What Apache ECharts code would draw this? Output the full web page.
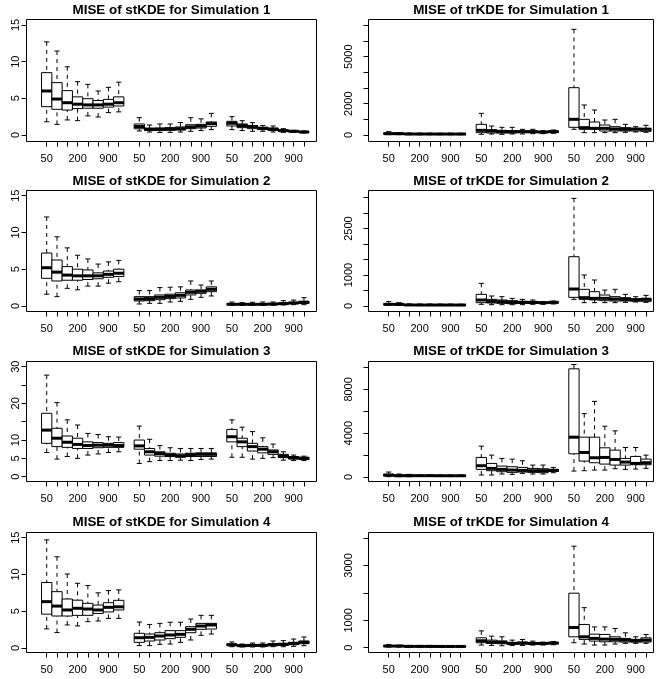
<!DOCTYPE html>
<html><head><meta charset="utf-8">
<script src="https://cdn.jsdelivr.net/npm/echarts@6/dist/echarts.min.js"></script>
<style>html,body{margin:0;padding:0;background:#fff}#c{width:662px;height:679px}</style>
</head><body><div id="c"></div>
<script>
// ---------- data ----------
const groupTickLabels = ['50', '', '', '200', '', '', '900', ''];
const nGroups = 3;

const titles = [
  'MISE of stKDE for Simulation 1', 'MISE of trKDE for Simulation 1',
  'MISE of stKDE for Simulation 2', 'MISE of trKDE for Simulation 2',
  'MISE of stKDE for Simulation 3', 'MISE of trKDE for Simulation 3',
  'MISE of stKDE for Simulation 4', 'MISE of trKDE for Simulation 4'
];

// each box: [lower whisker, Q1, median, Q3, upper whisker]
const stKDE_sim1 = [
  [1.8,3.86,6.0,8.5,12.7],[1.45,3.5,4.9,7.14,11.45],[2.05,3.4,4.4,6.05,9.3],[1.95,3.6,4.2,5.2,7.27],
  [2.6,3.65,4.1,4.95,6.9],[2.45,3.65,4.1,4.7,6.0],[3.05,3.8,4.2,4.85,6.5],[3.15,3.95,4.4,5.2,7.2],
  [0.55,0.85,1.15,1.5,2.36],[0.4,0.6,0.8,0.9,1.36],[0.35,0.6,0.78,0.95,1.5],[0.36,0.64,0.82,1.0,1.5],
  [0.4,0.68,0.86,1.1,1.7],[0.5,0.86,1.1,1.4,2.36],[0.6,0.95,1.22,1.45,2.2],[0.73,1.18,1.55,1.77,2.95],
  [0.73,1.23,1.6,1.86,2.5],[0.6,1.0,1.27,1.5,1.95],[0.5,0.86,1.14,1.3,1.68],[0.5,0.73,0.9,1.05,1.3],
  [0.41,0.64,0.77,0.95,1.23],[0.36,0.5,0.59,0.68,0.86],[0.36,0.45,0.5,0.55,0.64],[0.27,0.36,0.41,0.45,0.55]
];
const trKDE_sim1 = [
  [21,64,85,128,213],[21,43,85,106,150],[20,45,64,85,128],[20,44,62,82,120],
  [20,44,62,82,118],[20,43,60,80,115],[20,43,60,80,115],[20,43,60,80,112],
  [43,149,298,681,1383],[64,128,255,340,574],[43,128,213,298,489],[64,128,213,277,489],
  [64,149,213,255,362],[85,149,213,255,362],[85,149,191,213,277],[106,170,213,255,319],
  [364,490,1000,3020,6745],[149,364,468,1000,1915],[149,383,425,830,1596],[149,255,425,638,957],
  [149,255,383,532,1000],[170,255,364,468,681],[192,255,380,404,532],[170,234,364,425,617]
];
const stKDE_sim2 = [
  [1.6,3.76,5.2,7.2,12.1],[1.27,3.4,4.6,6.25,9.4],[2.4,3.5,4.2,5.35,7.9],[2.2,3.5,4.1,5.0,6.9],
  [2.7,3.6,4.1,4.9,6.4],[2.7,3.7,4.1,4.5,5.7],[3.1,3.9,4.3,4.75,6.0],[3.3,4.0,4.45,5.0,6.2],
  [0.27,0.68,0.95,1.27,2.1],[0.36,0.72,1.0,1.27,2.1],[0.36,0.86,1.18,1.5,2.5],[0.54,1.0,1.3,1.6,2.55],
  [0.63,1.09,1.45,1.8,2.6],[0.9,1.5,1.86,2.17,3.4],[1.18,1.72,2.0,2.17,2.85],[1.36,1.95,2.27,2.6,3.4],
  [0.09,0.18,0.23,0.32,0.54],[0.09,0.18,0.23,0.27,0.45],[0.09,0.18,0.23,0.32,0.5],[0.09,0.18,0.23,0.32,0.54],
  [0.09,0.18,0.27,0.32,0.54],[0.14,0.23,0.32,0.41,0.72],[0.18,0.32,0.41,0.5,0.8],[0.18,0.36,0.5,0.63,1.13]
];
const trKDE_sim2 = [
  [22,43,54,75,140],[22,32,54,65,108],[16,27,34,45,68],[16,27,32,43,65],
  [16,27,32,43,65],[16,26,32,42,62],[16,26,32,42,62],[16,26,31,41,60],
  [54,108,194,376,731],[43,97,151,215,323],[43,86,140,194,301],[43,75,118,172,247],
  [43,86,118,151,215],[54,86,118,140,194],[54,86,108,118,140],[65,97,118,129,161],
  [215,280,548,1591,3473],[108,215,269,538,1000],[108,194,247,462,839],[108,172,247,355,516],
  [108,161,226,301,538],[118,161,215,269,376],[129,161,194,237,301],[118,150,215,247,344]
];
const stKDE_sim3 = [
  [6.6,9.1,12.7,17.3,27.7],[4.8,8.2,10.5,13.2,20.2],[5.5,8.0,9.4,11.1,15.5],[5.0,7.7,8.8,10.5,14.1],
  [5.9,7.7,8.5,9.5,11.8],[6.2,7.9,8.6,9.3,11.5],[6.6,8.0,8.6,9.1,10.9],[6.8,8.0,8.5,9.3,10.8],
  [3.6,7.5,8.4,10.0,13.8],[4.1,5.9,6.8,7.7,10.2],[4.4,5.6,6.3,6.8,8.5],[4.4,5.5,5.9,6.4,7.9],
  [4.5,5.3,5.7,6.2,7.7],[4.4,5.5,6.0,6.4,7.7],[4.7,5.5,6.1,6.5,7.7],[4.8,5.5,6.1,6.5,7.7],
  [5.3,9.5,10.9,12.9,15.5],[5.3,8.2,9.5,10.5,13.5],[4.8,7.0,8.2,9.1,12.3],[5.0,6.5,7.5,8.2,10.6],
  [5.2,6.1,6.8,7.3,8.9],[4.5,5.2,5.6,6.1,6.8],[4.4,4.8,5.2,5.5,5.9],[4.4,4.7,5.0,5.3,5.6]
];
const trKDE_sim3 = [
  [30,91,182,242,455],[30,61,121,182,273],[30,91,121,182,242],[61,91,121,152,182],
  [61,91,121,152,182],[61,91,115,145,180],[61,91,115,145,178],[61,91,115,145,175],
  [182,697,1030,1788,2818],[182,576,788,1242,2000],[273,485,697,1000,1697],[242,424,636,939,1636],
  [333,455,606,879,1485],[273,424,576,788,1091],[273,394,576,758,1091],[394,515,606,697,879],
  [545,2121,3636,9878,10270],[576,1454,2242,3636,5787],[636,1303,1758,3636,6909],[636,1182,1788,2667,4636],
  [758,1091,1606,2454,4212],[697,1091,1364,1697,2697],[727,1121,1242,1879,2697],[788,1121,1303,1636,2000]
];
const stKDE_sim4 = [
  [2.6,4.6,6.3,8.9,14.7],[2.1,4.35,5.7,7.66,12.4],[3.13,4.35,5.17,6.66,10.06],[3.0,4.44,5.4,6.5,8.8],
  [3.58,4.44,5.3,6.07,8.5],[3.67,4.7,5.17,5.84,7.5],[4.03,4.9,5.53,6.16,7.8],[4.03,5.17,5.6,6.48,7.9],
  [0.32,0.77,1.4,2.0,3.53],[0.32,0.95,1.45,1.9,3.2],[0.5,1.09,1.63,2.08,3.35],[0.54,1.27,1.77,2.36,3.5],
  [0.77,1.45,1.86,2.36,3.5],[1.09,2.08,2.54,2.9,3.94],[1.72,2.54,2.99,3.35,4.44],[1.9,2.58,3.13,3.35,4.44],
  [0.18,0.32,0.45,0.54,0.82],[0.14,0.23,0.32,0.41,0.54],[0.14,0.27,0.36,0.45,0.68],[0.14,0.27,0.36,0.45,0.68],
  [0.18,0.32,0.45,0.59,0.95],[0.18,0.36,0.5,0.63,1.0],[0.23,0.45,0.63,0.77,1.22],[0.32,0.59,0.77,0.95,1.5]
];
const trKDE_sim4 = [
  [24,48,60,84,120],[24,48,60,72,96],[24,36,48,62,86],[24,36,48,60,84],
  [24,36,48,60,84],[24,36,46,58,82],[24,36,46,58,80],[24,36,46,58,80],
  [96,181,253,361,614],[84,157,205,277,422],[72,145,205,241,398],[84,120,157,193,277],
  [84,133,169,205,301],[96,133,157,181,241],[96,133,157,181,205],[108,145,169,193,229],
  [181,398,737,1988,3700],[134,304,398,845,1460],[98,242,340,495,759],[98,217,314,484,759],
  [134,217,304,398,701],[159,206,278,340,542],[159,206,253,304,398],[159,206,278,361,484]
];

// y-axis ticks and the tick labels R kept
const stTicks = [0, 5, 10, 15];
const st3Ticks = [0, 5, 10, 15, 20, 25, 30];
const st3Labels = [0, 5, 10, 20, 30];
const tr1Ticks = [0, 1000, 2000, 3000, 4000, 5000, 6000, 7000];
const tr1Labels = [0, 2000, 5000];
const tr2Ticks = [0, 500, 1000, 1500, 2000, 2500, 3000, 3500];
const tr2Labels = [0, 1000, 2500];
const tr3Ticks = [0, 2000, 4000, 6000, 8000, 10000];
const tr3Labels = [0, 4000, 8000];
const tr4Ticks = [0, 1000, 2000, 3000, 4000];
const tr4Labels = [0, 1000, 3000];

// ---------- layout ----------
const FONT = '"Liberation Sans", Arial, Helvetica, sans-serif';
const colLeft = [26.5, 368.5];
const colWidth = [290, 285];
const colXRange = [[-0.963, 27.22], [-0.963, 26.73]];
const colLabelMargin = [5, 14];
const rowTop = [19.5, 190.5, 361.5, 532.5];
const rowBottom = [141.5, 311.5, 481.5, 652.5];
const titleY = [10.3, 181, 351.3, 522.5];

const panels = [
  { data: stKDE_sim1, ticks: stTicks, labels: stTicks, yr: [-0.89, 15.75] },
  { data: trKDE_sim1, ticks: tr1Ticks, labels: tr1Labels, yr: [-415, 7372] },
  { data: stKDE_sim2, ticks: stTicks, labels: stTicks, yr: [-0.75, 15.70] },
  { data: trKDE_sim2, ticks: tr2Ticks, labels: tr2Labels, yr: [-177, 3726] },
  { data: stKDE_sim3, ticks: st3Ticks, labels: st3Labels, yr: [-1.31, 31.42] },
  { data: trKDE_sim3, ticks: tr3Ticks, labels: tr3Labels, yr: [-409, 10545] },
  { data: stKDE_sim4, ticks: stTicks, labels: stTicks, yr: [-0.61, 15.70] },
  { data: trKDE_sim4, ticks: tr4Ticks, labels: tr4Labels, yr: [-174, 4199] }
];

// box x positions: groups of 8 separated by one empty slot
const positions = [];
const xLabelOf = {};
for (let g = 0; g < nGroups; g++) {
  groupTickLabels.forEach((lab, i) => {
    const p = g * (groupTickLabels.length + 1) + i + 1;
    positions.push(p);
    xLabelOf[p] = lab;
  });
}
const labelPositions = positions.filter(p => xLabelOf[p] !== '');

const BOX_W = 1.0;
function renderBox(params, api) {
  const x = api.value(0);
  const lo = api.coord([x, api.value(1)]);
  const q1 = api.coord([x, api.value(2)]);
  const md = api.coord([x, api.value(3)]);
  const q3 = api.coord([x, api.value(4)]);
  const hi = api.coord([x, api.value(5)]);
  const w = api.size([BOX_W, 0])[0];
  const cx = md[0];
  const solid = { stroke: '#000', lineWidth: 1, fill: null };
  const dashed = { stroke: '#000', lineWidth: 1, lineDash: [4, 4], fill: null };
  return {
    type: 'group',
    children: [
      { type: 'line', shape: { x1: cx, y1: lo[1], x2: cx, y2: q1[1] }, style: dashed },
      { type: 'line', shape: { x1: cx, y1: hi[1], x2: cx, y2: q3[1] }, style: dashed },
      { type: 'line', shape: { x1: cx - w / 4, y1: lo[1], x2: cx + w / 4, y2: lo[1] }, style: solid },
      { type: 'line', shape: { x1: cx - w / 4, y1: hi[1], x2: cx + w / 4, y2: hi[1] }, style: solid },
      { type: 'rect', shape: { x: cx - w / 2, y: q3[1], width: w, height: q1[1] - q3[1] },
        style: { stroke: '#000', lineWidth: 1, fill: '#fff' } },
      { type: 'line', shape: { x1: cx - w / 2, y1: md[1], x2: cx + w / 2, y2: md[1] },
        style: { stroke: '#000', lineWidth: 3 } }
    ]
  };
}

const grid = [], xAxis = [], yAxis = [], series = [], graphic = [];
panels.forEach((pn, i) => {
  const r = Math.floor(i / 2), c = i % 2;
  grid.push({
    left: colLeft[c], top: rowTop[r], width: colWidth[c], height: rowBottom[r] - rowTop[r],
    show: true, borderColor: '#000', borderWidth: 1, backgroundColor: 'transparent',
    containLabel: false, outerBoundsMode: 'none'
  });
  xAxis.push({
    type: 'value', gridIndex: i, min: colXRange[c][0], max: colXRange[c][1],
    axisLine: { show: false, onZero: false },
    splitLine: { show: false },
    axisTick: { show: true, inside: false, length: 5, customValues: positions, lineStyle: { color: '#000', width: 1 } },
    axisLabel: { show: true, customValues: labelPositions, formatter: v => xLabelOf[Math.round(v)] || '',
      color: '#000', fontFamily: FONT, fontSize: 11, margin: 11.5, hideOverlap: false }
  });
  yAxis.push({
    type: 'value', gridIndex: i, min: pn.yr[0], max: pn.yr[1],
    axisLine: { show: false, onZero: false },
    splitLine: { show: false },
    axisTick: { show: true, inside: false, length: 5, customValues: pn.ticks, lineStyle: { color: '#000', width: 1 } },
    axisLabel: { show: true, customValues: pn.labels, formatter: v => String(v), rotate: 90,
      color: '#000', fontFamily: FONT, fontSize: 11, margin: colLabelMargin[c], hideOverlap: false }
  });
  series.push({
    type: 'custom', xAxisIndex: i, yAxisIndex: i, silent: true, animation: false,
    renderItem: renderBox,
    encode: { x: 0, y: [1, 2, 3, 4, 5] },
    data: pn.data.map((b, k) => [positions[k]].concat(b))
  });
  graphic.push({
    type: 'text', x: colLeft[c] + colWidth[c] / 2, y: titleY[r], silent: true,
    style: { text: titles[i], fill: '#000', font: 'bold 13.4px ' + FONT,
      textAlign: 'center', textVerticalAlign: 'middle' }
  });
});

const chart = echarts.init(document.getElementById('c'), null, { renderer: 'canvas' });
chart.setOption({
  animation: false,
  backgroundColor: '#fff',
  grid, xAxis, yAxis, series, graphic
});
</script>
</body></html>
